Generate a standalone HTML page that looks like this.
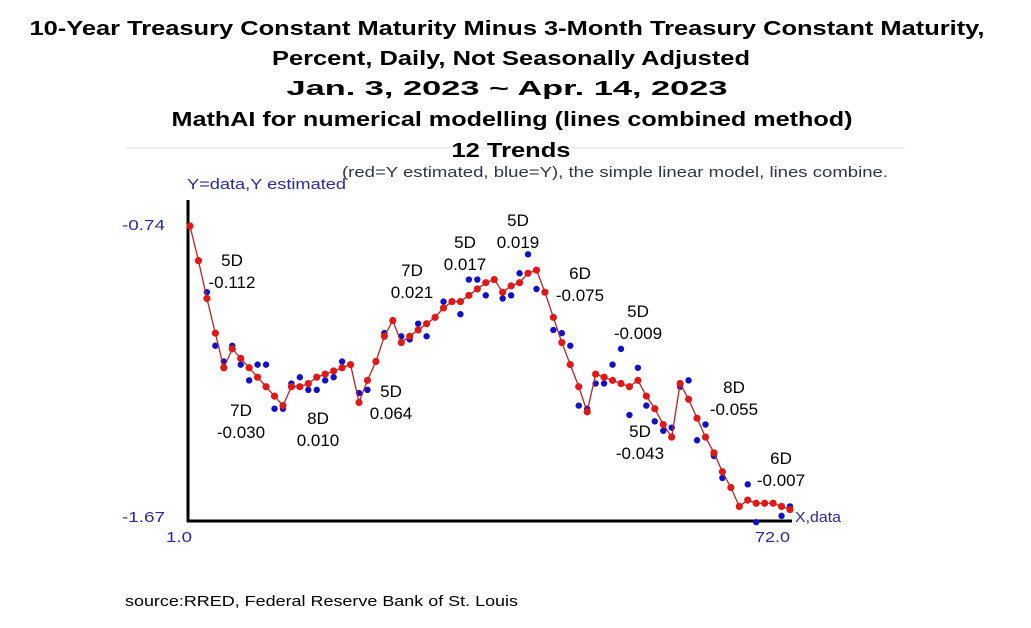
<!DOCTYPE html>
<html><head><meta charset="utf-8"><style>
body{margin:0;background:#fff;width:1031px;height:628px;overflow:hidden;font-family:"Liberation Sans",Arial,sans-serif}
</style></head><body>
<svg id="c" width="1031" height="628" style="position:absolute;left:0;top:0" font-family="Liberation Sans, Arial, sans-serif">
<line x1="125" y1="148" x2="905" y2="148" stroke="#eee" stroke-width="2"/>
<g font-weight="bold" font-size="20" text-anchor="middle" lengthAdjust="spacingAndGlyphs">
<text x="507" y="35" textLength="955" lengthAdjust="spacingAndGlyphs">10-Year Treasury Constant Maturity Minus 3-Month Treasury Constant Maturity,</text>
<text x="511" y="65" textLength="478" lengthAdjust="spacingAndGlyphs">Percent, Daily, Not Seasonally Adjusted</text>
<text x="507" y="95" textLength="441" lengthAdjust="spacingAndGlyphs">Jan. 3, 2023 ~ Apr. 14, 2023</text>
<text x="512" y="126" textLength="681" lengthAdjust="spacingAndGlyphs">MathAI for numerical modelling (lines combined method)</text>
<text x="511" y="157" textLength="119" lengthAdjust="spacingAndGlyphs">12 Trends</text>
</g>
<text x="342" y="177" font-size="15" fill="#334" textLength="546" lengthAdjust="spacingAndGlyphs">(red=Y estimated, blue=Y), the simple linear model, lines combine.</text>
<text x="187" y="189" font-size="15" fill="#2a2aa0" textLength="159" lengthAdjust="spacingAndGlyphs">Y=data,Y estimated</text>
<text x="122" y="230" font-size="15" fill="#2a2aa0" textLength="43" lengthAdjust="spacingAndGlyphs">-0.74</text>
<text x="122" y="522" font-size="15" fill="#2a2aa0" textLength="43" lengthAdjust="spacingAndGlyphs">-1.67</text>
<text x="166" y="542" font-size="15" fill="#2a2aa0" textLength="26" lengthAdjust="spacingAndGlyphs">1.0</text>
<text x="755" y="542" font-size="15" fill="#2a2aa0" textLength="35" lengthAdjust="spacingAndGlyphs">72.0</text>
<text x="795" y="522" font-size="15" fill="#2a2aa0" textLength="46" lengthAdjust="spacingAndGlyphs">X,data</text>
<line x1="188" y1="200" x2="188" y2="522" stroke="#000" stroke-width="3"/>
<line x1="187" y1="521" x2="792" y2="521" stroke="#000" stroke-width="3"/>
<text x="125" y="606" font-size="15" fill="#000" textLength="393" lengthAdjust="spacingAndGlyphs">source:RRED, Federal Reserve Bank of St. Louis</text>
<g id="g"></g>
</svg>
<script>
const blueY=[-0.74,-0.85,-0.95,-1.12,-1.17,-1.12,-1.18,-1.23,-1.18,-1.18,-1.32,-1.32,-1.24,-1.22,-1.26,-1.26,-1.23,-1.22,-1.17,-1.18,-1.27,-1.26,-1.17,-1.08,-1.04,-1.09,-1.10,-1.05,-1.09,-1.03,-0.98,-0.98,-1.02,-0.91,-0.91,-0.96,-0.91,-0.97,-0.96,-0.89,-0.83,-0.94,-0.95,-1.07,-1.08,-1.12,-1.31,-1.32,-1.24,-1.24,-1.18,-1.13,-1.34,-1.19,-1.31,-1.36,-1.39,-1.38,-1.25,-1.23,-1.42,-1.37,-1.47,-1.54,-1.57,-1.63,-1.56,-1.68,-1.62,-1.62,-1.66,-1.63];
const redY=[-0.74,-0.85,-0.97,-1.08,-1.19,-1.13,-1.16,-1.19,-1.22,-1.25,-1.28,-1.31,-1.25,-1.25,-1.24,-1.22,-1.21,-1.20,-1.19,-1.18,-1.30,-1.23,-1.17,-1.09,-1.04,-1.11,-1.09,-1.07,-1.05,-1.03,-1.00,-0.98,-0.98,-0.96,-0.94,-0.92,-0.91,-0.95,-0.93,-0.92,-0.89,-0.88,-0.95,-1.03,-1.11,-1.18,-1.25,-1.33,-1.21,-1.22,-1.23,-1.24,-1.25,-1.23,-1.28,-1.32,-1.37,-1.41,-1.24,-1.29,-1.35,-1.41,-1.46,-1.52,-1.57,-1.63,-1.61,-1.62,-1.62,-1.62,-1.63,-1.64];
const trendLabels=[["5D","-0.112"],["7D","-0.030"],["8D","0.010"],["5D","0.064"],["7D","0.021"],["5D","0.017"],["5D","0.019"],["6D","-0.075"],["5D","-0.009"],["5D","-0.043"],["8D","-0.055"],["6D","-0.007"]];
const labelPos=[[232,266],[241,416],[318,424],[391,397],[412,276],[465,248],[518,226],[580,279],[638,317],[640,437],[734,393],[781,464]];
const NS="http://www.w3.org/2000/svg",g=document.getElementById('g');
const X=i=>190+i*(600/71), Y=v=>226+(-0.74-v)/0.003174;
blueY.forEach((v,i)=>{const c=document.createElementNS(NS,'circle');c.setAttribute('cx',X(i));c.setAttribute('cy',Y(v));c.setAttribute('r',3.2);c.setAttribute('fill','#1010c8');


g.appendChild(c);});
const p=document.createElementNS(NS,'polyline');p.setAttribute('points',redY.map((v,i)=>X(i)+','+Y(v)).join(' '));p.setAttribute('fill','none');p.setAttribute('stroke','#c02020');p.setAttribute('stroke-width','1.3');


g.appendChild(p);
redY.forEach((v,i)=>{const c=document.createElementNS(NS,'circle');c.setAttribute('cx',X(i));c.setAttribute('cy',Y(v));c.setAttribute('r',3.6);c.setAttribute('fill','#e01818');


g.appendChild(c);});
trendLabels.forEach((t,k)=>{[0,1].forEach(j=>{const e=document.createElementNS(NS,'text');e.setAttribute('x',labelPos[k][0]);e.setAttribute('y',labelPos[k][1]+j*22);e.setAttribute('text-anchor','middle');e.setAttribute('font-size','17');e.textContent=t[j];


g.appendChild(e);});});
</script>
</body></html>
